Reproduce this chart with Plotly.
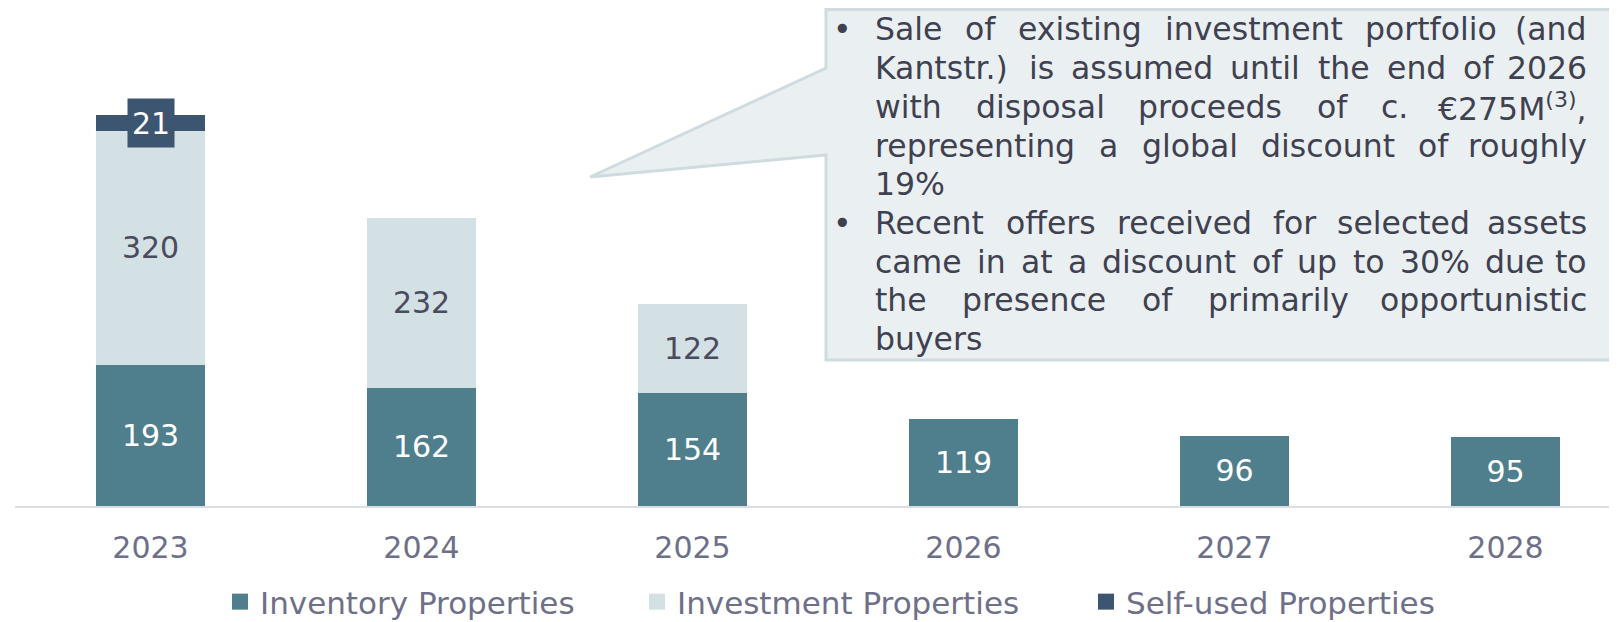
import plotly.graph_objects as go

years = ["2023", "2024", "2025", "2026", "2027", "2028"]
inventory = [193, 162, 154, 119, 96, 95]
investment = [320, 232, 122, 0, 0, 0]
self_used = [21, 0, 0, 0, 0, 0]

series_names = ["Inventory Properties", "Investment Properties", "Self-used Properties"]
series_colors = ["#4F7E8D", "#D3E0E4", "#3C5571"]

# callout text, one entry per rendered line: (text, justified, bullet)
callout_lines = [
    ("Sale of existing investment portfolio (and", True, True),
    ("Kantstr.) is assumed until the end of 2026", True, False),
    ("with disposal proceeds of c. €275M<sup>(3)</sup>,", True, False),
    ("representing a global discount of roughly", True, False),
    ("19%", False, False),
    ("Recent offers received for selected assets", True, True),
    ("came in at a discount of up to 30% due to", True, False),
    ("the presence of primarily opportunistic", True, False),
    ("buyers", False, False),
]

FONT = "DejaVu Sans"
# the page puts the figure 8px in from the top-left, so the figure is drawn
# 8px smaller and all target positions below are given in window pixels
OFF = 8
W, H = 1617 - OFF, 622 - OFF
ML, MR, MT, MB = 15 - OFF, 0, 0, 116
PW, PH = W - ML - MR, H - MT - MB
Y_MAX = PH / 0.7315  # ~0.73 px per unit as in the original


def px(x):
    return (x - OFF - ML) / PW


def py(y):
    return (H - MB - (y - OFF)) / PH


# rough DejaVu Sans advance widths (em)
CW = {
    'a': .613, 'b': .635, 'c': .550, 'd': .635, 'e': .615, 'f': .352, 'g': .635,
    'h': .634, 'i': .278, 'j': .278, 'k': .579, 'l': .278, 'm': .974, 'n': .634,
    'o': .612, 'p': .635, 'q': .635, 'r': .411, 's': .521, 't': .392, 'u': .634,
    'v': .592, 'w': .818, 'x': .592, 'y': .592, 'z': .525, ' ': .318, '.': .318,
    ',': .318, '(': .390, ')': .390, '%': .950, '€': .636, 'M': .863, 'S': .635,
    'K': .656, 'R': .695,
}


def word_width(word, size):
    w = 0
    sup = False
    i = 0
    while i < len(word):
        if word.startswith("<sup>", i):
            sup = True
            i += 5
            continue
        if word.startswith("</sup>", i):
            sup = False
            i += 6
            continue
        c = word[i]
        cw = .636 if c.isdigit() else CW.get(c, .62)
        w += cw * (0.7 if sup else 1.0)
        i += 1
    return w * size


fig = go.Figure()

inv_text = [str(v) if v else "" for v in investment]
fig.add_trace(go.Bar(x=years, y=inventory, name=series_names[0], marker_color=series_colors[0],
                     marker_line_width=0, text=[str(v) for v in inventory], textposition="inside",
                     insidetextanchor="middle", textfont=dict(size=30, color="white", family=FONT),
                     constraintext="none", showlegend=False, hoverinfo="skip"))
fig.add_trace(go.Bar(x=years, y=investment, name=series_names[1], marker_color=series_colors[1],
                     marker_line_width=0, text=inv_text, textposition="inside",
                     insidetextanchor="middle", textfont=dict(size=30, color="#4A4B5E", family=FONT),
                     constraintext="none", showlegend=False, hoverinfo="skip"))
fig.add_trace(go.Bar(x=years, y=self_used, name=series_names[2], marker_color=series_colors[2],
                     marker_line_width=0, showlegend=False, hoverinfo="skip"))

# label boxes for the self-used segment
for i, v in enumerate(self_used):
    if v:
        fig.add_annotation(x=i, y=inventory[i] + investment[i] + v / 2, xref="x", yref="y", text=str(v),
                           showarrow=False, bgcolor=series_colors[2], borderpad=4, width=38, height=40,
                           font=dict(size=30, color="white", family=FONT))

# legend entries, one legend each so they can be placed like the original
legend_sq = [240, 657, 1106]
for k in range(3):
    lg = "legend" if k == 0 else f"legend{k + 1}"
    fig.add_trace(go.Scatter(x=[None], y=[None], mode="markers", name=series_names[k],
                             marker=dict(symbol="square", size=18, color=series_colors[k]),
                             legend=lg, hoverinfo="skip"))
legend_style = dict(orientation="h", xref="container", yref="container", yanchor="middle",
                    y=1 - (602 - OFF) / H, xanchor="left",
                    font=dict(size=31, color="#6E6F88", family=FONT),
                    bgcolor="rgba(0,0,0,0)", borderwidth=0)

# callout box with pointer
path_pts = [(826, 9.5), (1612, 9.5), (1612, 360), (826, 360), (826, 155), (590, 177), (826, 68)]
path = "M " + " L ".join(f"{px(x):.5f},{py(y):.5f}" for x, y in path_pts) + " Z"
fig.add_shape(type="path", xref="paper", yref="paper", path=path,
              fillcolor="#EAF0F2", line=dict(color="#CEDCE0", width=3), layer="above")

text_left, text_right = 873, 1589
csize = 31.5
tcolor = "#3F4150"
for n, (line, justified, bullet) in enumerate(callout_lines):
    yc = py(29.5 + 38.7 * n)
    if bullet:
        fig.add_annotation(x=px(831), y=yc, xref="paper", yref="paper", text="•", showarrow=False,
                           xanchor="left", yanchor="middle", font=dict(size=csize, color=tcolor, family=FONT))
    words = line.split(" ")
    if not justified or len(words) == 1:
        fig.add_annotation(x=px(text_left), y=yc, xref="paper", yref="paper", text=line, showarrow=False,
                           xanchor="left", yanchor="middle", font=dict(size=csize, color=tcolor, family=FONT))
        continue
    widths = [word_width(w, csize) for w in words]
    gap = (text_right - text_left - sum(widths)) / (len(words) - 1)
    xpos = text_left
    for j, w in enumerate(words):
        if j == len(words) - 1:
            fig.add_annotation(x=px(text_right), y=yc, xref="paper", yref="paper", text=w, showarrow=False,
                               xanchor="right", yanchor="middle", font=dict(size=csize, color=tcolor, family=FONT))
        else:
            fig.add_annotation(x=px(xpos), y=yc, xref="paper", yref="paper", text=w, showarrow=False,
                               xanchor="left", yanchor="middle", font=dict(size=csize, color=tcolor, family=FONT))
        xpos += widths[j] + gap

fig.update_layout(
    width=W, height=H,
    margin=dict(l=ML, r=MR, t=MT, b=MB, autoexpand=False),
    barmode="stack", bargap=0.6,
    plot_bgcolor="white", paper_bgcolor="white",
    font=dict(family=FONT),
    legend=dict(legend_style, x=(legend_sq[0] - 20 - OFF) / W),
    legend2=dict(legend_style, x=(legend_sq[1] - 20 - OFF) / W),
    legend3=dict(legend_style, x=(legend_sq[2] - 20 - OFF) / W),
)
fig.update_xaxes(type="category", range=[-0.5, -0.5 + PW / 271], showline=True, linecolor="#DCDCE6",
                 linewidth=2, ticks="", showgrid=False, tickfont=dict(size=30, color="#6E6F88", family=FONT),
                 ticklabelstandoff=14, automargin=False)
fig.update_yaxes(range=[0, Y_MAX], visible=False, showgrid=False, zeroline=False, automargin=False)

fig.write_html("out.html")
